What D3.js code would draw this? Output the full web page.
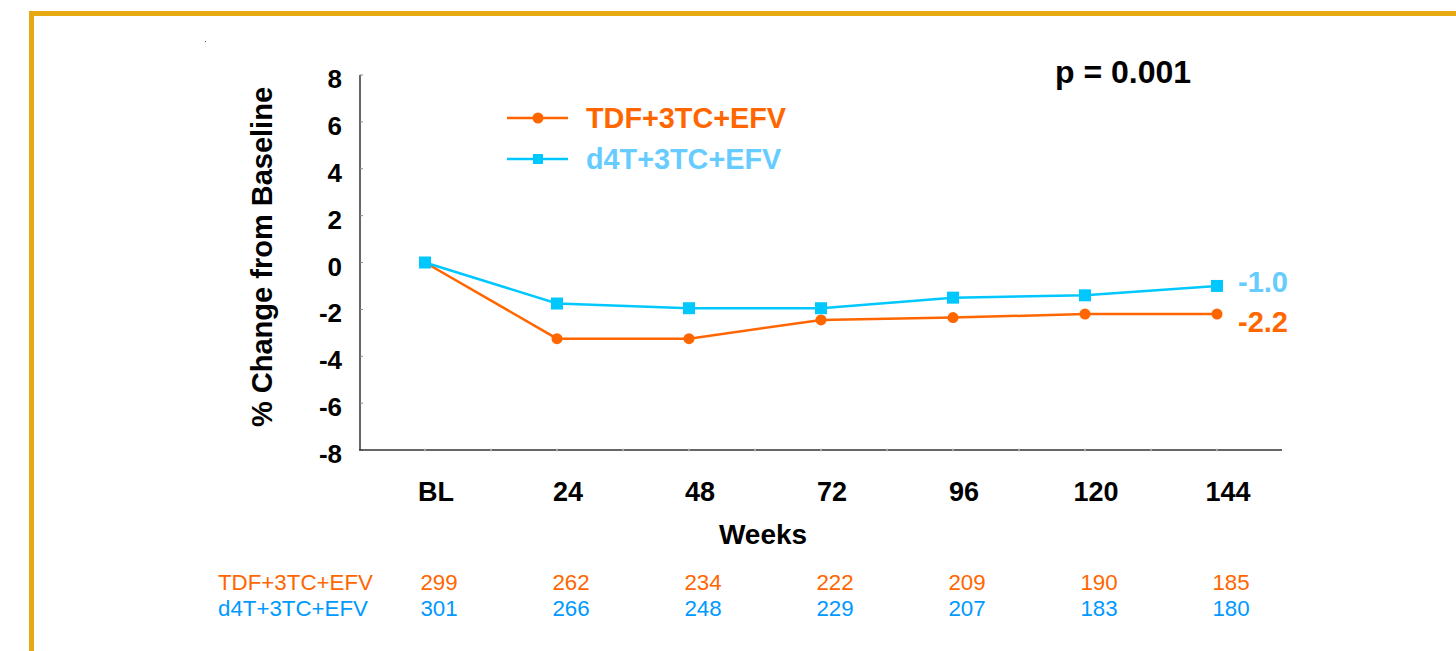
<!DOCTYPE html>
<html>
<head>
<meta charset="utf-8">
<script src="https://cdn.jsdelivr.net/npm/d3@7"></script>
<style>
  html, body { margin: 0; padding: 0; background: #fff; }
  svg text { font-family: "Liberation Sans", Arial, sans-serif; }
</style>
</head>
<body>
<div id="chart"></div>
<script>
const weeks = ["BL", "24", "48", "72", "96", "120", "144"];
const tdfValues = [0, -3.25, -3.25, -2.45, -2.35, -2.2, -2.2];
const d4tValues = [0, -1.75, -1.95, -1.95, -1.5, -1.4, -1.0];
const tdfN = [299, 262, 234, 222, 209, 190, 185];
const d4tN = [301, 266, 248, 229, 207, 183, 180];
const yTicks = [8, 6, 4, 2, 0, -2, -4, -6, -8];
const seriesNames = ["TDF+3TC+EFV", "d4T+3TC+EFV"];
const endLabels = ["-2.2", "-1.0"];

const W = 1456, H = 651;
const orange = "#FF6600";
const blueLine = "#00C8FF";
const blueText = "#66CCFF";
const blueTable = "#0099FF";

const svg = d3.select("#chart")
  .append("svg")
  .attr("width", W)
  .attr("height", H);

// cadre doré
svg.append("rect")
  .attr("x", 31.5)
  .attr("y", 13.5)
  .attr("width", W)
  .attr("height", H)
  .attr("fill", "none")
  .attr("stroke", "#E6A911")
  .attr("stroke-width", 5);

svg.append("rect").attr("x", 205).attr("y", 41).attr("width", 1).attr("height", 1).attr("fill", "#555");

const x = d3.scaleBand()
  .domain(weeks)
  .range([359, 1283]);
const y = d3.scaleLinear()
  .domain([-8, 8])
  .range([450, 75]);
const cx = d => x(d) + x.bandwidth() / 2;

// axe Y
svg.append("line")
  .attr("x1", 360).attr("x2", 360)
  .attr("y1", y(8)).attr("y2", y(-8))
  .attr("stroke", "#333").attr("stroke-width", 1.5);

svg.selectAll(".ytick")
  .data(yTicks)
  .enter().append("line")
  .attr("x1", 360).attr("x2", 363)
  .attr("y1", d => y(d)).attr("y2", d => y(d))
  .attr("stroke", "#888").attr("stroke-width", 1);

svg.selectAll(".ylab")
  .data(yTicks)
  .enter().append("text")
  .attr("x", 342)
  .attr("y", d => y(d) + 4)
  .attr("dominant-baseline", "central")
  .attr("text-anchor", "end")
  .attr("font-size", 26)
  .attr("font-weight", "bold")
  .text(d => d);

svg.append("text")
  .attr("transform", `translate(262, 257) rotate(-90)`)
  .attr("text-anchor", "middle")
  .attr("dominant-baseline", "central")
  .attr("font-size", 29)
  .attr("font-weight", "bold")
  .text("% Change from Baseline");

// axe X
svg.append("line")
  .attr("x1", 359).attr("x2", 1282)
  .attr("y1", 450).attr("y2", 450)
  .attr("stroke", "#333").attr("stroke-width", 1.5);

const minor = [];
weeks.forEach(w => { minor.push(x(w)); minor.push(cx(w)); });
svg.selectAll(".xtick")
  .data(minor.slice(1))
  .enter().append("line")
  .attr("x1", d => d).attr("x2", d => d)
  .attr("y1", 448).attr("y2", 452)
  .attr("stroke", "#ddd").attr("stroke-width", 1);

svg.selectAll(".xlab")
  .data(weeks)
  .enter().append("text")
  .attr("x", d => cx(d) + 11)
  .attr("y", 492)
  .attr("dominant-baseline", "central")
  .attr("text-anchor", "middle")
  .attr("font-size", 27)
  .attr("font-weight", "bold")
  .text(d => d);

svg.append("text")
  .attr("x", 763)
  .attr("y", 534)
  .attr("dominant-baseline", "central")
  .attr("text-anchor", "middle")
  .attr("font-size", 28)
  .attr("font-weight", "bold")
  .text("Weeks");

// séries
const line = d3.line()
  .x((d, i) => cx(weeks[i]))
  .y(d => y(d));

svg.append("path")
  .attr("d", line(tdfValues))
  .attr("fill", "none")
  .attr("stroke", orange)
  .attr("stroke-width", 2.5);

svg.append("path")
  .attr("d", line(d4tValues))
  .attr("fill", "none")
  .attr("stroke", blueLine)
  .attr("stroke-width", 2.5);

svg.selectAll(".dot")
  .data(tdfValues)
  .enter().append("circle")
  .attr("cx", (d, i) => cx(weeks[i]))
  .attr("cy", d => y(d))
  .attr("r", 5.5)
  .attr("fill", orange);

svg.selectAll(".sq")
  .data(d4tValues)
  .enter().append("rect")
  .attr("x", (d, i) => cx(weeks[i]) - 6)
  .attr("y", d => y(d) - 6)
  .attr("width", 12)
  .attr("height", 12)
  .attr("fill", blueLine);

// valeurs finales
svg.append("text")
  .attr("x", 1238).attr("y", y(d4tValues[6]) - 4)
  .attr("dominant-baseline", "central")
  .attr("font-size", 29).attr("font-weight", "bold")
  .attr("fill", blueText)
  .text(endLabels[1]);

svg.append("text")
  .attr("x", 1238).attr("y", y(tdfValues[6]) + 8)
  .attr("dominant-baseline", "central")
  .attr("font-size", 29).attr("font-weight", "bold")
  .attr("fill", orange)
  .text(endLabels[0]);

// légende
const legend = [
  { name: seriesNames[0], color: orange, text: orange, y: 118, shape: "circle" },
  { name: seriesNames[1], color: blueLine, text: blueText, y: 159, shape: "square" }
];
legend.forEach(l => {
  svg.append("line")
    .attr("x1", 507).attr("x2", 568)
    .attr("y1", l.y).attr("y2", l.y)
    .attr("stroke", l.color).attr("stroke-width", 2.5);
  if (l.shape === "circle") {
    svg.append("circle").attr("cx", 538).attr("cy", l.y).attr("r", 5.5).attr("fill", l.color);
  } else {
    svg.append("rect").attr("x", 533).attr("y", l.y - 5).attr("width", 10).attr("height", 10).attr("fill", l.color);
  }
  svg.append("text")
    .attr("x", 586).attr("y", l.y)
    .attr("dominant-baseline", "central")
    .attr("font-size", 28.8).attr("font-weight", "bold")
    .attr("fill", l.text)
    .text(l.name);
});

svg.append("text")
  .attr("x", 1055).attr("y", 72)
  .attr("dominant-baseline", "central")
  .attr("font-size", 32).attr("font-weight", "bold")
  .text("p = 0.001");

// tableau des effectifs
const rows = [
  { name: seriesNames[0], vals: tdfN, color: orange, y: 582 },
  { name: seriesNames[1], vals: d4tN, color: blueTable, y: 608 }
];
rows.forEach(r => {
  svg.append("text")
    .attr("x", 218).attr("y", r.y)
    .attr("dominant-baseline", "central")
    .attr("font-size", 22.3)
    .attr("fill", r.color)
    .text(r.name);
  svg.selectAll(null)
    .data(r.vals)
    .enter().append("text")
    .attr("x", (d, i) => cx(weeks[i]) + 14)
    .attr("y", r.y)
    .attr("dominant-baseline", "central")
    .attr("text-anchor", "middle")
    .attr("font-size", 22.3)
    .attr("fill", r.color)
    .text(d => d);
});
</script>
</body>
</html>
